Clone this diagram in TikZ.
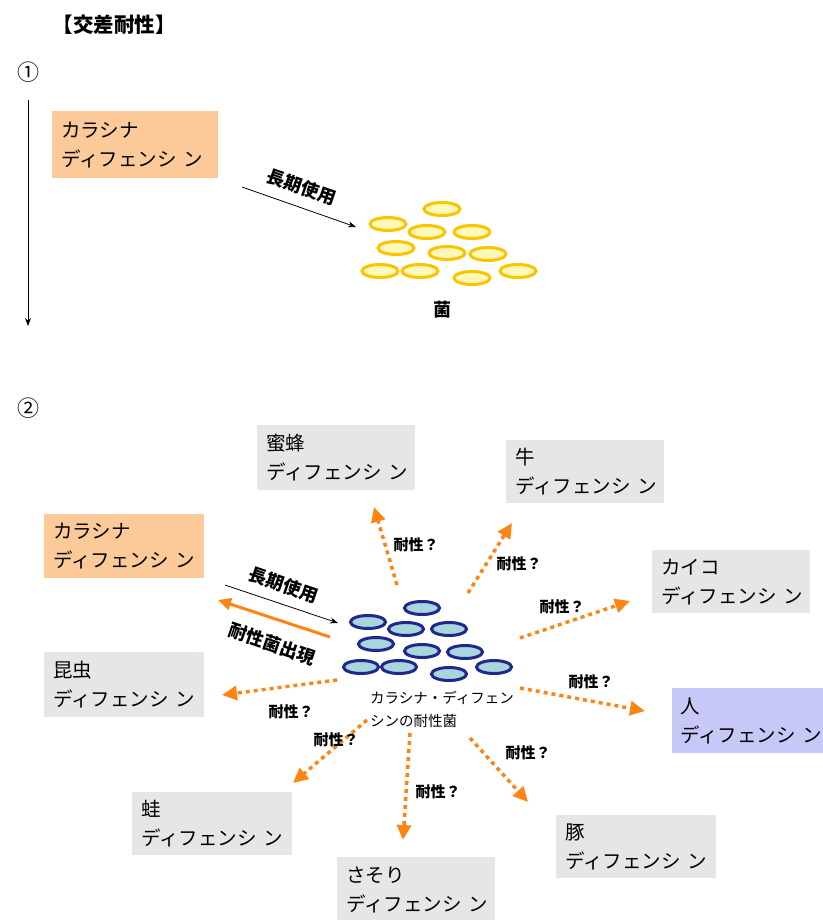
\documentclass[tikz,border=0pt]{standalone}
\usepackage{fontspec}
\setmainfont{Noto Sans CJK JP}
\usetikzlibrary{shapes.geometric,arrows.meta}
\definecolor{orbox}{RGB}{252,202,152}
\definecolor{grbox}{RGB}{228,231,228}
\definecolor{blbox}{RGB}{200,200,248}
\definecolor{ystroke}{RGB}{250,196,0}
\definecolor{yfill}{RGB}{255,248,185}
\definecolor{bstroke}{RGB}{32,40,140}
\definecolor{bfill}{RGB}{168,214,220}
\definecolor{oarrow}{RGB}{255,132,20}
\begin{document}
\begin{tikzpicture}[x=1pt,y=-1pt,
  boxbase/.style={anchor=north west, inner xsep=9pt, inner ysep=0pt, align=left,
    font=\fontsize{19.5}{29}\selectfont},
  obox/.style={boxbase, fill=orbox},
  gbox/.style={boxbase, fill=grbox},
  bbox/.style={boxbase, fill=blbox},
  ybac/.style={ellipse, draw=ystroke, fill=yfill, line width=3pt, minimum width=36pt, minimum height=13pt, inner sep=0pt},
  bbac/.style={ellipse, draw=bstroke, fill=bfill, line width=3pt, minimum width=35pt, minimum height=13pt, inner sep=0pt},
  lbl/.style={font=\bfseries\fontsize{18}{20}\selectfont, inner sep=0pt},
  qlbl/.style={font=\bfseries\fontsize{15}{17}\selectfont, inner sep=0pt},
  thinarrow/.style={draw=black, line width=0.8pt, -{Stealth[length=8pt,width=6pt]}},
  orarrow/.style={draw=oarrow, line width=3pt, -{Triangle[length=13pt,width=12pt]}},
  dotarrow/.style={draw=oarrow, line width=3.5pt, dash pattern=on 4pt off 4pt, -{Triangle[length=15pt,width=14pt]}}
]
\useasboundingbox (0,0) rectangle (822,920);

% ---------- Section 1 ----------
\node[font=\bfseries\fontsize{20.5}{22}\selectfont, inner sep=0pt] (title) at (114,25) {【交差耐性】};
\node[font=\fontsize{22}{24}\selectfont, inner sep=0pt] (n1) at (28,72) {①};
\coordinate (vtop) at (28,100);
\coordinate (vbot) at (28,326);
\draw[thinarrow] (vtop) -- (vbot);

\node[obox, text width=148pt, minimum height=67pt] (k1) at (52,111) {カラシナ\\ディフェンシ~ン};

\coordinate (a1s) at (242,187);
\coordinate (a1e) at (356,227);
\draw[thinarrow] (a1s) -- (a1e);
\node[lbl, rotate=-19] (l1) at (302,187) {長期使用};

\foreach \px/\py [count=\i] in {442/209, 388/224, 427/232, 472/232, 396/248, 447/253, 488/254, 380/271, 420/271, 472/278, 518/271}
  \node[ybac] (y\i) at (\px,\py) {};
\node[lbl] (kin) at (442,310) {菌};

% ---------- Section 2 ----------
\node[font=\fontsize{22}{24}\selectfont, inner sep=0pt] (n2) at (28,408) {②};

\node[obox, text width=142pt, minimum height=64pt] (k2) at (44,514) {カラシナ\\ディフェンシ~ン};
\node[gbox, text width=140pt, minimum height=65pt] (mitsu) at (257,425) {蜜蜂\\ディフェンシ~ン};
\node[gbox, text width=140pt, minimum height=63pt] (ushi) at (506,440) {牛\\ディフェンシ~ン};
\node[gbox, text width=140pt, minimum height=63pt] (kaiko) at (652,550) {カイコ\\ディフェンシ~ン};
\node[bbox, inner xsep=8pt, text width=150pt, minimum height=65pt] (hito) at (672,688) {人\\ディフェンシ~ン};
\node[gbox, text width=142pt, minimum height=65pt] (kon) at (44,652) {昆虫\\ディフェンシ~ン};
\node[gbox, text width=142pt, minimum height=63pt] (kaeru) at (132,792) {蛙\\ディフェンシ~ン};
\node[gbox, text width=140pt, minimum height=65pt] (sasori) at (337,857) {さそり\\ディフェンシ~ン};
\node[gbox, text width=142pt, minimum height=63pt] (buta) at (556,815) {豚\\ディフェンシ~ン};

\foreach \px/\py [count=\i] in {422/608, 368/622, 406/629, 449/629, 376/644, 422/651, 465/652, 361/667, 399/667, 449/674, 494/667}
  \node[bbac] (b\i) at (\px,\py) {};
\node[font=\fontsize{14.5}{23}\selectfont, align=left, inner sep=0pt] (clab) at (442,709) {カラシナ・ディフェン\\シンの耐性菌};

\coordinate (a2s) at (225,585);
\coordinate (a2e) at (338,623);
\draw[thinarrow] (a2s) -- (a2e);
\node[lbl, rotate=-19] (l2) at (284,585) {長期使用};
\coordinate (o2s) at (330,637);
\coordinate (o2e) at (218,600);
\draw[orarrow] (o2s) -- (o2e);
\node[lbl, rotate=-19] (l3) at (272,644) {耐性菌出現};

% dotted arrows
\coordinate (s1) at (397,585); \coordinate (e1) at (374,507);
\coordinate (s2) at (468,593); \coordinate (e2) at (512,523);
\coordinate (s3) at (520,638); \coordinate (e3) at (630,601);
\coordinate (s4) at (520,688); \coordinate (e4) at (645,711);
\coordinate (s5) at (470,738); \coordinate (e5) at (528,802);
\coordinate (s6) at (410,733); \coordinate (e6) at (403,840);
\coordinate (s7) at (367,720); \coordinate (e7) at (293,783);
\coordinate (s8) at (337,680); \coordinate (e8) at (222,695);
\foreach \i in {1,...,8} \draw[dotarrow] (s\i) -- (e\i);

\node[qlbl] (q1) at (416,545) {耐性？};
\node[qlbl] (q2) at (519,564) {耐性？};
\node[qlbl] (q3) at (562,607) {耐性？};
\node[qlbl] (q4) at (591,682) {耐性？};
\node[qlbl] (q5) at (528,753) {耐性？};
\node[qlbl] (q6) at (438,792) {耐性？};
\node[qlbl] (q7) at (336,740) {耐性？};
\node[qlbl] (q8) at (291,712) {耐性？};
\end{tikzpicture}
\end{document}
